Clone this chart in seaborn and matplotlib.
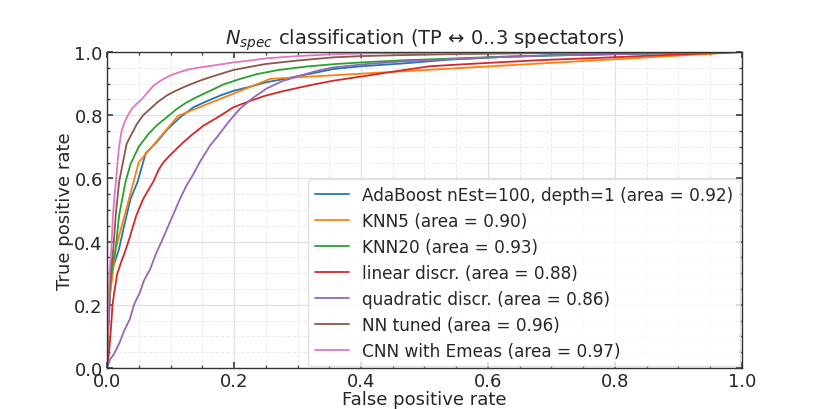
import numpy as np
import pandas as pd
import matplotlib
matplotlib.use("Agg")
import matplotlib.pyplot as plt
import seaborn as sns
from matplotlib.ticker import MultipleLocator

labels = [
    "AdaBoost nEst=100, depth=1 (area = 0.92)",
    "KNN5 (area = 0.90)",
    "KNN20 (area = 0.93)",
    "linear discr. (area = 0.88)",
    "quadratic discr. (area = 0.86)",
    "NN tuned (area = 0.96)",
    "CNN with Emeas (area = 0.97)",
]

ada_fpr = [0, 0.002, 0.005, 0.008, 0.013, 0.019, 0.027, 0.037, 0.048, 0.061, 0.078, 0.095,
           0.115, 0.136, 0.158, 0.178, 0.199, 0.225, 0.25, 0.28, 0.304, 0.33, 0.356, 0.40,
           0.461, 0.54, 0.62, 0.70, 0.80, 0.90, 1.0]
ada_tpr = [0, 0.12, 0.24, 0.31, 0.34, 0.377, 0.45, 0.535, 0.588, 0.68, 0.714, 0.755,
           0.793, 0.825, 0.845, 0.862, 0.877, 0.89, 0.904, 0.915, 0.925, 0.935, 0.946, 0.955,
           0.963, 0.976, 0.984, 0.99, 0.994, 0.997, 1.0]

knn5_fpr = [0, 0.004, 0.014, 0.05, 0.112, 0.257, 1.0]
knn5_tpr = [0, 0.22, 0.38, 0.651, 0.798, 0.915, 1.0]

knn20_fpr = [0, 0.002, 0.005, 0.009, 0.0137, 0.019, 0.029, 0.037, 0.050, 0.065, 0.078, 0.095,
             0.11, 0.125, 0.141, 0.16, 0.183, 0.21, 0.236, 0.27, 0.314, 0.36, 0.409, 0.47,
             0.54, 0.62, 0.70, 0.80, 0.90, 1.0]
knn20_tpr = [0, 0.15, 0.26, 0.33, 0.377, 0.482, 0.588, 0.645, 0.70, 0.74, 0.767, 0.795,
             0.82, 0.84, 0.857, 0.875, 0.897, 0.915, 0.930, 0.943, 0.954, 0.962, 0.968, 0.974,
             0.979, 0.985, 0.989, 0.993, 0.997, 1.0]

lin_fpr = [0, 0.001, 0.003, 0.006, 0.0084, 0.011, 0.016, 0.024, 0.027, 0.035, 0.046, 0.057,
           0.063, 0.073, 0.082, 0.089, 0.10, 0.12, 0.135, 0.152, 0.178, 0.199, 0.225, 0.25,
           0.277, 0.304, 0.33, 0.356, 0.409, 0.461, 0.509, 0.56, 0.614, 0.69, 0.771, 0.85,
           0.92, 1.0]
lin_tpr = [0, 0.02, 0.044, 0.118, 0.193, 0.234, 0.297, 0.345, 0.36, 0.408, 0.482, 0.535,
           0.556, 0.59, 0.63, 0.651, 0.675, 0.714, 0.74, 0.767, 0.798, 0.825, 0.845, 0.862,
           0.876, 0.888, 0.899, 0.909, 0.925, 0.941, 0.955, 0.961, 0.967, 0.975, 0.981, 0.988,
           0.994, 1.0]

quad_fpr = [0, 0.005, 0.011, 0.02, 0.027, 0.036, 0.043, 0.052, 0.058, 0.068, 0.077, 0.083,
            0.099, 0.115, 0.125, 0.135, 0.146, 0.162, 0.175, 0.19, 0.209, 0.23, 0.251, 0.275,
            0.304, 0.33, 0.356, 0.409, 0.47, 0.54, 0.62, 0.70, 0.80, 0.90, 1.0]
quad_tpr = [0, 0.028, 0.044, 0.081, 0.118, 0.155, 0.203, 0.24, 0.276, 0.313, 0.361, 0.387,
            0.461, 0.535, 0.577, 0.61, 0.651, 0.703, 0.735, 0.775, 0.82, 0.855, 0.884, 0.907,
            0.925, 0.94, 0.951, 0.962, 0.971, 0.977, 0.984, 0.989, 0.993, 0.997, 1.0]

nn_fpr = [0, 0.001, 0.003, 0.006, 0.01, 0.0137, 0.019, 0.024, 0.031, 0.04, 0.047, 0.057,
          0.068, 0.08, 0.094, 0.107, 0.12, 0.133, 0.146, 0.162, 0.178, 0.199, 0.225, 0.25,
          0.3, 0.356, 0.40, 0.46, 0.54, 0.62, 0.70, 0.80, 0.90, 1.0]
nn_tpr = [0, 0.12, 0.22, 0.31, 0.377, 0.482, 0.588, 0.640, 0.71, 0.745, 0.772, 0.80,
          0.82, 0.842, 0.862, 0.876, 0.888, 0.899, 0.909, 0.92, 0.930, 0.943, 0.953, 0.962,
          0.973, 0.983, 0.987, 0.99, 0.993, 0.995, 0.997, 0.998, 0.999, 1.0]

cnn_fpr = [0, 0.001, 0.002, 0.004, 0.0068, 0.0094, 0.012, 0.014, 0.017, 0.019, 0.023, 0.028,
           0.033, 0.039, 0.047, 0.055, 0.063, 0.073, 0.085, 0.099, 0.115, 0.131, 0.146, 0.173,
           0.199, 0.225, 0.251, 0.30, 0.356, 0.42, 0.54, 0.65, 0.8, 1.0]
cnn_tpr = [0, 0.1, 0.2, 0.3, 0.377, 0.482, 0.55, 0.588, 0.66, 0.70, 0.75, 0.78,
           0.80, 0.82, 0.837, 0.851, 0.87, 0.893, 0.91, 0.925, 0.937, 0.946, 0.951, 0.959,
           0.967, 0.973, 0.98, 0.987, 0.993, 0.996, 0.998, 0.999, 1.0, 1.0]

series = [(ada_fpr, ada_tpr), (knn5_fpr, knn5_tpr), (knn20_fpr, knn20_tpr),
          (lin_fpr, lin_tpr), (quad_fpr, quad_tpr), (nn_fpr, nn_tpr), (cnn_fpr, cnn_tpr)]

rows = []
for lab, (f, t) in zip(labels, series):
    for a, b in zip(f, t):
        rows.append({"model": lab, "fpr": a, "tpr": b})
df = pd.DataFrame(rows)

sns.set_theme(style="ticks")
plt.rcParams["font.family"] = ["DejaVu Sans"]

fig = plt.figure(figsize=(8.2, 4.1), dpi=100)
ax = fig.add_axes([107 / 820, 1 - 369 / 410, (742 - 107) / 820, (369 - 53) / 410])

palette = sns.color_palette("tab10", 7)
sns.lineplot(data=df, x="fpr", y="tpr", hue="model", hue_order=labels, palette=palette,
             sort=False, estimator=None, units="model", linewidth=1.3, ax=ax)

ax.set_xlim(0, 1)
ax.set_ylim(0, 1)
ax.xaxis.set_major_locator(MultipleLocator(0.2))
ax.yaxis.set_major_locator(MultipleLocator(0.2))
ax.xaxis.set_minor_locator(MultipleLocator(0.05))
ax.yaxis.set_minor_locator(MultipleLocator(0.05))
ax.grid(which="major", color="#e0e0e0", linestyle="-", linewidth=0.9)
ax.grid(which="minor", color="#ececec", linestyle="--", linewidth=0.7)
ax.set_axisbelow(True)
ax.tick_params(which="both", direction="in", top=True, right=True, labelsize=13, color="#444444")
ax.tick_params(which="major", length=4, pad=3)
ax.tick_params(which="minor", length=2)
for s in ax.spines.values():
    s.set_color("#333333")
    s.set_linewidth(1.0)

ax.set_xlabel("False positive rate", fontsize=13, labelpad=0)
ax.set_ylabel("True positive rate", fontsize=13, labelpad=0)
ax.set_title("$N_{spec}$ classification (TP \u2194 0..3 spectators)", fontsize=14, pad=2)

leg = ax.legend(loc="lower right", fontsize=12.2, frameon=True, fancybox=True, framealpha=0.8,
                borderaxespad=0.1, handlelength=2.0, labelspacing=0.47)
leg.get_frame().set_edgecolor("#dddddd")
for line in leg.get_lines():
    line.set_linewidth(1.3)

fig.savefig("out.png", dpi=100)
